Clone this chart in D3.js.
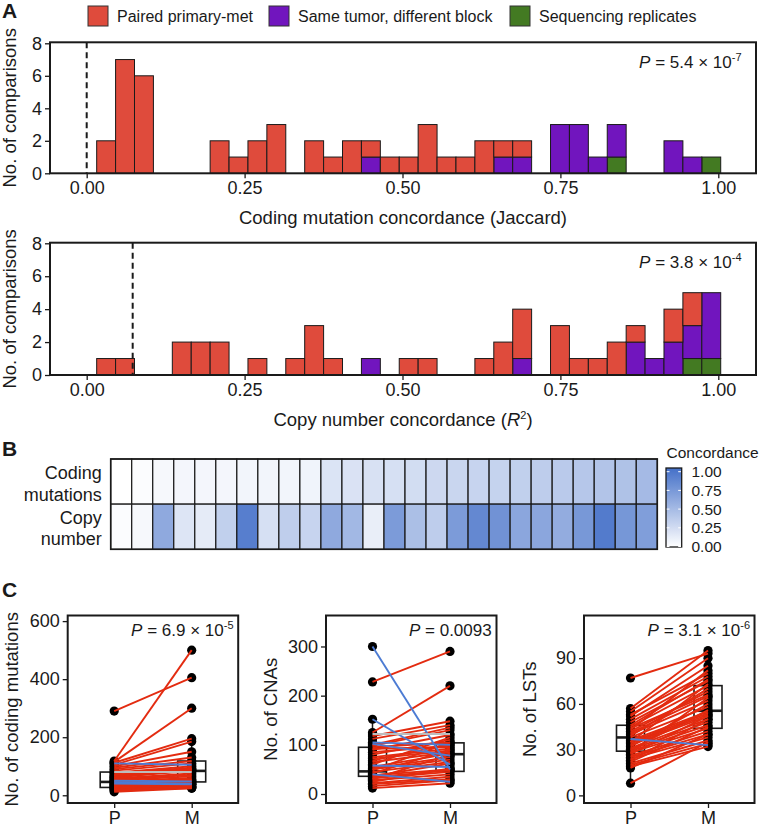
<!DOCTYPE html>
<html><head><meta charset="utf-8">
<script src="https://cdn.jsdelivr.net/npm/d3@7"></script>
<style>
body{margin:0;background:#fff}
text{font-family:"Liberation Sans",Arial,Helvetica,sans-serif;fill:#1a1a1a}
</style>
</head><body>
<svg id="c" width="762" height="829" xmlns="http://www.w3.org/2000/svg"></svg>
<script>
// ---------------- DATA ----------------
const categories = ["Paired primary-met", "Same tumor, different block", "Sequencing replicates"];
const categoryKeys = ["paired", "block", "rep"];
const categoryColors = ["#DF4B3C", "#7115BE", "#437A22"];

// histogram bins (33 bins)
const binStart = 0.0158, binWidth = 0.02994;
const mutPaired = [2,7,6,0,0,0,2,1,2,3,0,2,1,2,1,1,1,3,1,1,2,1,1,0,0,0,0,0,0,0,0,0,0];
const mutBlock  = [0,0,0,0,0,0,0,0,0,0,0,0,0,0,1,0,0,0,0,0,0,1,1,0,3,3,1,2,0,0,2,1,0];
const mutRep    = [0,0,0,0,0,0,0,0,0,0,0,0,0,0,0,0,0,0,0,0,0,0,0,0,0,0,0,1,0,0,0,0,1];
const cnPaired  = [1,1,0,0,2,2,2,0,1,0,1,3,1,0,0,0,1,1,0,0,1,2,3,0,3,1,1,2,1,0,2,2,0];
const cnBlock   = [0,0,0,0,0,0,0,0,0,0,0,0,0,0,1,0,0,0,0,0,0,0,1,0,0,0,0,0,2,1,2,2,4];
const cnRep     = [0,0,0,0,0,0,0,0,0,0,0,0,0,0,0,0,0,0,0,0,0,0,0,0,0,0,0,0,0,0,0,1,1];
const histXTicks = [0, 0.25, 0.5, 0.75, 1.0];
const histYTicks = [0, 2, 4, 6, 8];
const mutThreshold = 0.0;
const cnThreshold = 0.0728;

// heatmap (26 pairs)
const heatRows = ["Coding mutations", "Copy number"];
const heatCoding = [0.00,0.02,0.05,0.06,0.06,0.06,0.07,0.07,0.07,0.08,0.19,0.20,0.21,0.22,0.24,0.27,0.29,0.30,0.31,0.33,0.35,0.37,0.39,0.41,0.43,0.48];
const heatCopy   = [0.02,0.05,0.60,0.18,0.14,0.33,0.90,0.22,0.34,0.30,0.60,0.50,0.12,0.70,0.45,0.35,0.70,0.83,0.76,0.62,0.62,0.58,0.72,0.92,0.73,0.68];
const legendTicks = [0, 0.25, 0.5, 0.75, 1.0];

// paired values (primary P, metastasis M)
const mutP = [290,118,115,112,110,105,100,95,90,85,80,78,75,70,68,65,62,60,58,55,52,50,48,46,45,42,40,38,36,34,32,30,28,26,24,22,20,18,15,12];
const mutM = [405,500,300,195,105,185,150,130,118,110,80,100,95,92,88,85,84,90,75,70,65,48,60,55,40,52,38,50,45,42,40,38,35,32,30,28,27,25,30,24];
const cnaP = [300,228,152,125,122,118,112,105,102,100,98,95,92,90,85,80,75,72,68,65,60,58,55,52,50,48,45,42,40,38,36,34,32,30,28,25,22,20,16,12];
const cnaM = [50,290,60,220,122,148,140,100,78,135,130,105,95,120,98,110,92,88,102,85,115,55,82,75,70,105,65,90,25,50,62,48,45,80,40,52,35,30,28,22];
const lstP = [77,57,55,53,50,48,45,43,42,41,40,39,38,37,36,35,34,33,32,31,30,30,29,28,27,26,25,24,23,22,21,20,19,18,8,44,35,28,46,52];
const lstM = [93,95,90,80,78,75,72,82,68,65,62,70,58,33,55,54,53,52,60,50,48,56,46,44,52,42,40,38,50,45,36,34,32,40,35,66,73,64,76,85];
// box statistics [lowWhisker, q1, median, q3, highWhisker] for P and M
const mutBox = {P:[12,27,46,80,120], M:[24,46,84,118,195]};
const cnaBox = {P:[12,36,46,95,152], M:[22,46,81,104,150]};
const lstBox = {P:[8,29,38,46,57], M:[32,44,55.5,72,95]};
const mutTicks = [0,200,400,600];
const cnaTicks = [0,100,200,300];
const lstTicks = [0,30,60,90];

// ---------------- DRAW ----------------
const svg = d3.select("#c");
const INK = "#1a1a1a";

function panelLetter(t, x, y) {
  svg.append("text").attr("x", x).attr("y", y).attr("font-size", 21).attr("font-weight", "bold").text(t);
}
function pText(x, y, base, exp) {
  const t = svg.append("text").attr("x", x).attr("y", y).attr("text-anchor", "end").attr("font-size", 17);
  t.append("tspan").attr("font-style", "italic").text("P");
  t.append("tspan").text(" = " + base);
  if (exp) t.append("tspan").attr("dy", -7).attr("font-size", 11).text(exp);
}
function styleAxis(g, fs) {
  g.select(".domain").remove();
  g.selectAll(".tick line").attr("stroke", INK).attr("stroke-width", 1.3);
  g.selectAll(".tick text").attr("font-size", fs).attr("fill", INK)
    .attr("font-family", '"Liberation Sans",Arial,Helvetica,sans-serif');
}

// ---- Legend
const legX = [88, 269, 510];
categories.forEach((c, i) => {
  svg.append("rect").attr("x", legX[i]).attr("y", 6).attr("width", 20).attr("height", 20)
    .attr("fill", categoryColors[i]).attr("stroke", "#333").attr("stroke-width", 1);
  svg.append("text").attr("x", legX[i] + 29).attr("y", 21.5).attr("font-size", 16).text(c);
});
panelLetter("A", 2, 17.5);

// ---- Histograms
const histX = d3.scaleLinear().domain([0, 1]).range([86.7, 718.3]);
const frameL = 50, frameR = 756;
function drawHist(top, y8, bottom, paired, block, rep, thr, pBase, pExp, pY, titleFn) {
  const y = d3.scaleLinear().domain([0, 8]).range([bottom, y8]);
  const rows = paired.map((v, i) => ({i: i, paired: v, block: block[i], rep: rep[i]}));
  const stack = d3.stack().keys(["rep", "block", "paired"])(rows);
  const colorOf = {paired: categoryColors[0], block: categoryColors[1], rep: categoryColors[2]};
  const g = svg.append("g");
  stack.forEach(layer => {
    layer.forEach(d => {
      if (d[1] - d[0] <= 0) return;
      const x0 = binStart + d.data.i * binWidth;
      g.append("rect")
        .attr("x", histX(x0)).attr("width", histX(x0 + binWidth) - histX(x0))
        .attr("y", y(d[1])).attr("height", y(d[0]) - y(d[1]))
        .attr("fill", colorOf[layer.key]).attr("stroke", INK).attr("stroke-width", 1);
    });
  });
  svg.append("line").attr("x1", histX(thr)).attr("x2", histX(thr)).attr("y1", top).attr("y2", bottom)
    .attr("stroke", INK).attr("stroke-width", 2).attr("stroke-dasharray", "6,4");
  svg.append("rect").attr("x", frameL).attr("y", top).attr("width", frameR - frameL).attr("height", bottom - top)
    .attr("fill", "none").attr("stroke", INK).attr("stroke-width", 2);
  const ax = svg.append("g").attr("transform", `translate(${frameL},0)`)
    .call(d3.axisLeft(y).tickValues(histYTicks).tickSize(5).tickPadding(3).tickFormat(d3.format("d")));
  styleAxis(ax, 18);
  const bx = svg.append("g").attr("transform", `translate(0,${bottom})`)
    .call(d3.axisBottom(histX).tickValues(histXTicks).tickSize(5).tickPadding(3).tickFormat(d3.format(".2f")));
  styleAxis(bx, 18);
  svg.append("text").attr("transform", `translate(15.5,${(top + bottom) / 2}) rotate(-90)`)
    .attr("text-anchor", "middle").attr("font-size", 18.5).text("No. of comparisons");
  titleFn(svg.append("text").attr("x", (frameL + frameR) / 2).attr("y", bottom + 50.5)
    .attr("text-anchor", "middle").attr("font-size", 18.5));
  pText(741.5, pY, pBase, pExp);
}
drawHist(42.3, 43.3, 173.3, mutPaired, mutBlock, mutRep, mutThreshold, "5.4 × 10", "-7", 67.5,
  t => t.text("Coding mutation concordance (Jaccard)"));
drawHist(242.7, 243.3, 375, cnPaired, cnBlock, cnRep, cnThreshold, "3.8 × 10", "-4", 268,
  t => {
    t.append("tspan").text("Copy number concordance (");
    t.append("tspan").attr("font-style", "italic").text("R");
    t.append("tspan").attr("dy", -7).attr("font-size", 11).text("2");
    t.append("tspan").attr("dy", 7).text(")");
  });

// ---- Heatmap
panelLetter("B", 2, 455.5);
const hx = d3.scaleBand().domain(d3.range(heatCoding.length)).range([110.7, 657.3]);
const hy = d3.scaleBand().domain(heatRows).range([459, 549.3]);
const color = d3.scaleLinear().domain([0, 1]).range(["#ffffff", "#4470C8"]);
[heatCoding, heatCopy].forEach((arr, r) => {
  arr.forEach((v, i) => {
    svg.append("rect").attr("x", hx(i)).attr("y", hy(heatRows[r]))
      .attr("width", hx.bandwidth()).attr("height", hy.bandwidth())
      .attr("fill", color(v)).attr("stroke", INK).attr("stroke-width", 1.2);
  });
});
svg.append("rect").attr("x", 110.7).attr("y", 459).attr("width", 657.3 - 110.7).attr("height", 90.3)
  .attr("fill", "none").attr("stroke", INK).attr("stroke-width", 1.6);
const rowLbl = [["Coding", 479.3], ["mutations", 500.5], ["Copy", 523.5], ["number", 544.5]];
rowLbl.forEach(([t, yy]) => svg.append("text").attr("x", 101.7).attr("y", yy)
  .attr("text-anchor", "end").attr("font-size", 18).text(t));

// colour bar
const defs = svg.append("defs");
const grad = defs.append("linearGradient").attr("id", "cb").attr("x1", 0).attr("x2", 0).attr("y1", 1).attr("y2", 0);
d3.range(0, 1.0001, 0.1).forEach(s => grad.append("stop").attr("offset", s).attr("stop-color", color(s)));
const cbY = d3.scaleLinear().domain([0, 1]).range([546.5, 471.7]);
const cbL = 666, cbW = 15.7;
svg.append("rect").attr("x", cbL).attr("y", 468).attr("width", cbW).attr("height", 79)
  .attr("fill", "url(#cb)").attr("stroke", INK).attr("stroke-width", 1.3);
legendTicks.forEach(v => {
  svg.append("line").attr("x1", cbL + 0.7).attr("x2", cbL + 3.5).attr("y1", cbY(v)).attr("y2", cbY(v))
    .attr("stroke", "#fff").attr("stroke-width", 1);
  svg.append("line").attr("x1", cbL + cbW - 3.5).attr("x2", cbL + cbW - 0.7).attr("y1", cbY(v)).attr("y2", cbY(v))
    .attr("stroke", "#fff").attr("stroke-width", 1);
  svg.append("text").attr("x", 691.5).attr("y", cbY(v)).attr("dy", "0.36em")
    .attr("font-size", 15.5).text(d3.format(".2f")(v));
});
svg.append("text").attr("x", 666.5).attr("y", 457.5).attr("font-size", 15.5).text("Concordance");

// ---- Panel C
panelLetter("C", 2, 597);
const lineCol = (p, m) => m > p ? "#E32B10" : (m < p ? "#4C7BD3" : "#BDBDBD");
function drawPaired(left, P, M, box, dom, ticks, title, titleX, pBase, pExp, pRight) {
  const top = 615.5, bottom = 803, right = left + 170.5;
  const x = d3.scalePoint().domain(["P", "M"]).range([left, right]).padding(0.6);
  const y = d3.scaleLinear().domain(dom).range([bottom, top]);
  const bw = 28;
  ["P", "M"].forEach(k => {
    const s = box[k], cx = x(k);
    svg.append("line").attr("x1", cx).attr("x2", cx).attr("y1", y(s[0])).attr("y2", y(s[4]))
      .attr("stroke", INK).attr("stroke-width", 1.5);
    svg.append("rect").attr("x", cx - bw / 2).attr("y", y(s[3])).attr("width", bw).attr("height", y(s[1]) - y(s[3]))
      .attr("fill", "#fff").attr("stroke", INK).attr("stroke-width", 1.6);
    svg.append("line").attr("x1", cx - bw / 2).attr("x2", cx + bw / 2).attr("y1", y(s[2])).attr("y2", y(s[2]))
      .attr("stroke", INK).attr("stroke-width", 2.6);
  });
  P.forEach(v => svg.append("circle").attr("cx", x("P")).attr("cy", y(v)).attr("r", 4.6).attr("fill", "#000"));
  M.forEach(v => svg.append("circle").attr("cx", x("M")).attr("cy", y(v)).attr("r", 4.6).attr("fill", "#000"));
  // draw red lines first so blue / grey are visible
  const idx = d3.range(P.length).sort((a, b) => (M[a] > P[a] ? 0 : 1) - (M[b] > P[b] ? 0 : 1));
  idx.forEach(i => svg.append("line").attr("x1", x("P")).attr("x2", x("M"))
    .attr("y1", y(P[i])).attr("y2", y(M[i])).attr("stroke", lineCol(P[i], M[i])).attr("stroke-width", 1.9));
  svg.append("rect").attr("x", left).attr("y", top).attr("width", right - left).attr("height", bottom - top)
    .attr("fill", "none").attr("stroke", INK).attr("stroke-width", 2);
  const ax = svg.append("g").attr("transform", `translate(${left},0)`)
    .call(d3.axisLeft(y).tickValues(ticks).tickSize(5).tickPadding(3));
  styleAxis(ax, 18);
  const bx = svg.append("g").attr("transform", `translate(0,${bottom})`)
    .call(d3.axisBottom(x).tickSize(5).tickPadding(3));
  styleAxis(bx, 18);
  svg.append("text").attr("transform", `translate(${titleX},${(top + bottom) / 2}) rotate(-90)`)
    .attr("text-anchor", "middle").attr("font-size", 18.5).text(title);
  pText(pRight, 635.5, pBase, pExp);
}
drawPaired(67.7, mutP, mutM, mutBox, [-26.6, 619.3], mutTicks, "No. of coding mutations", 17.5, "6.9 × 10", "-5", 233.5);
drawPaired(326, cnaP, cnaM, cnaBox, [-18.3, 363], cnaTicks, "No. of CNAs", 277, "0.0093", null, 491.7);
drawPaired(584, lstP, lstM, lstBox, [-5, 118], lstTicks, "No. of LSTs", 536, "3.1 × 10", "-6", 750);
</script>
</body></html>
